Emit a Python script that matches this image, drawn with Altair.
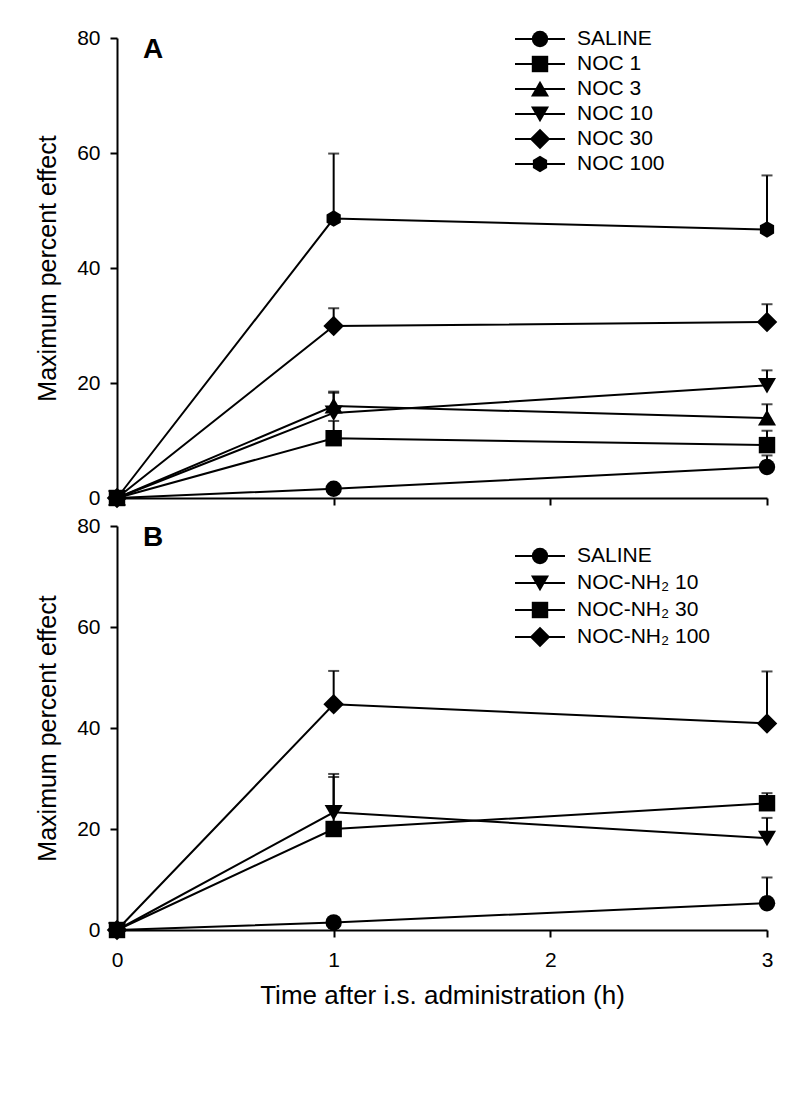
import altair as alt
import pandas as pd

FONT = "Liberation Sans"
HEX = "M0,-1L0.866,-0.5L0.866,0.5L0,1L-0.866,0.5L-0.866,-0.5Z"
DIAMOND = "M-1.25,0L0,-1.25L1.25,0L0,1.25Z"
TRI_UP = "M0,-1.0L1.1,0.9L-1.1,0.9Z"
TRI_DOWN = "M-1.1,-0.9L1.1,-0.9L0,1.0Z"

# ---------------- data ----------------
times = [0, 1, 3]
x_ticks = [0, 1, 2, 3]
y_ticks = [0, 20, 40, 60, 80]

# Panel A
series_a = ["SALINE", "NOC 1", "NOC 3", "NOC 10", "NOC 30", "NOC 100"]
saline_a = [0, 1.6, 5.4]
noc1_a = [0, 10.4, 9.2]
noc3_a = [0, 16.0, 13.9]
noc10_a = [0, 14.8, 19.6]
noc30_a = [0, 29.9, 30.6]
noc100_a = [0, 48.6, 46.7]
saline_a_err = [0, 0.6, 2.0]
noc1_a_err = [0, 3.0, 2.5]
noc3_a_err = [0, 2.5, 2.4]
noc10_a_err = [0, 3.5, 2.6]
noc30_a_err = [0, 3.1, 3.1]
noc100_a_err = [0, 11.3, 9.4]

# Panel B
series_b = ["SALINE", "NOC-NH₂ 10", "NOC-NH₂ 30", "NOC-NH₂ 100"]
saline_b = [0, 1.5, 5.3]
nh10_b = [0, 23.3, 18.2]
nh30_b = [0, 20.0, 25.1]
nh100_b = [0, 44.7, 40.9]
saline_b_err = [0, 0.6, 5.1]
nh10_b_err = [0, 7.6, 4.0]
nh30_b_err = [0, 10.3, 2.0]
nh100_b_err = [0, 6.6, 10.3]

# marker shapes (style mapping)
shapes_a = ["circle", "square", TRI_UP, TRI_DOWN, DIAMOND, HEX]
shapes_b = ["circle", TRI_DOWN, "square", DIAMOND]

MSIZE = 270


def build_df(series, means, errs):
    rows = []
    for s, m, e in zip(series, means, errs):
        for t, v, ev in zip(times, m, e):
            rows.append({"series": s, "time": t, "value": v, "upper": v + ev, "err": ev})
    return pd.DataFrame(rows)


def panel(series, means, errs, shapes, height, letter, leg_top, leg_step, show_x):
    df = build_df(series, means, errs)
    shape_scale = alt.Scale(domain=series, range=shapes)
    xscale = alt.Scale(domain=[0, 3], nice=False, zero=False)
    yscale = alt.Scale(domain=[0, 80], nice=False)
    if show_x:
        xaxis = alt.Axis(values=x_ticks, format="d", title="Time after i.s. administration (h)",
                         tickSize=7, labelPadding=12, titlePadding=12, labelFlush=False,
                         titleFontSize=26)
    else:
        xaxis = alt.Axis(values=x_ticks, labels=False, title=None, tickSize=7)
    yaxis = alt.Axis(values=y_ticks, format="d", title="Maximum percent effect",
                     tickSize=7, labelPadding=10, titlePadding=16, titleFontSize=25)

    X = alt.X("time:Q", scale=xscale, axis=xaxis)
    base = alt.Chart(df)
    lines = base.mark_line(color="black", strokeWidth=2).encode(
        x=X, y=alt.Y("value:Q", scale=yscale, axis=yaxis), detail="series:N", order="time:Q")
    errdf = base.transform_filter("datum.err > 0")
    rules = errdf.mark_rule(color="black", strokeWidth=2).encode(
        x=X, y=alt.Y("value:Q", scale=yscale, axis=yaxis), y2="upper:Q")
    caps = errdf.mark_tick(orient="horizontal", size=11, thickness=2, color="black").encode(
        x=X, y=alt.Y("upper:Q", scale=yscale, axis=yaxis))
    pts = base.mark_point(filled=True, color="black", opacity=1, size=MSIZE).encode(
        x=X, y=alt.Y("value:Q", scale=yscale, axis=yaxis),
        shape=alt.Shape("series:N", scale=shape_scale, legend=None))
    data_layer = alt.layer(lines, rules, caps, pts)

    n = len(series)
    legdf = pd.DataFrame({"series": series})
    ly = alt.Y("series:N", sort=series, axis=None,
               scale=alt.Scale(type="point", range=[leg_top, leg_top + leg_step * (n - 1)], padding=0))
    leg = alt.Chart(legdf)
    leg_rule = leg.mark_rule(color="black", strokeWidth=2).encode(
        x=alt.value(398), x2=alt.value(448), y=ly)
    leg_pt = leg.mark_point(filled=True, color="black", opacity=1, size=MSIZE).encode(
        x=alt.value(423), y=ly, shape=alt.Shape("series:N", scale=shape_scale, legend=None))
    leg_txt = leg.mark_text(align="left", baseline="middle", fontSize=21, font=FONT, color="black").encode(
        x=alt.value(460), y=ly, text="series:N")
    legend_layer = alt.layer(leg_rule, leg_pt, leg_txt)

    letter_chart = alt.Chart(pd.DataFrame({"t": [letter]})).mark_text(
        align="left", baseline="alphabetic", fontSize=28, fontWeight="bold", font=FONT, color="black"
    ).encode(x=alt.value(26), y=alt.value(20), text="t:N")

    return alt.layer(data_layer, legend_layer, letter_chart).resolve_scale(y="independent").properties(
        width=650, height=height)


panel_a = panel(series_a,
                [saline_a, noc1_a, noc3_a, noc10_a, noc30_a, noc100_a],
                [saline_a_err, noc1_a_err, noc3_a_err, noc10_a_err, noc30_a_err, noc100_a_err],
                shapes_a, 460, "A", 1, 25, False)
panel_b = panel(series_b,
                [saline_b, nh10_b, nh30_b, nh100_b],
                [saline_b_err, nh10_b_err, nh30_b_err, nh100_b_err],
                shapes_b, 404, "B", 30, 27, True)

chart = alt.vconcat(panel_a, panel_b, spacing=6).resolve_scale(
    x="independent", y="independent", shape="independent"
).properties(
    padding={"left": 27, "top": 19, "right": 5, "bottom": 5}
).configure_axis(
    domainColor="black", tickColor="black", domainWidth=2, tickWidth=2,
    labelColor="black", titleColor="black", labelFont=FONT, titleFont=FONT,
    labelFontSize=21, titleFontSize=23, titleFontWeight="normal", grid=False
).configure_view(stroke=None).configure_text(font=FONT)

chart.save("out.html", embed_options={"renderer": "svg", "actions": False})
